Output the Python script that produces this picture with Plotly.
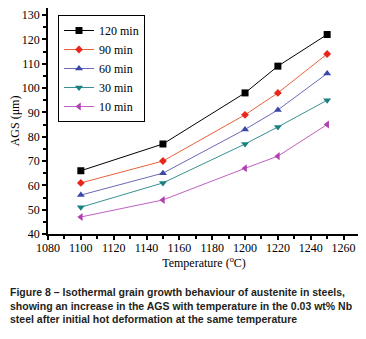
import plotly.graph_objects as go

temps = [1100, 1150, 1200, 1220, 1250]
ags_120 = [66, 77, 98, 109, 122]
ags_90 = [61, 70, 89, 98, 114]
ags_60 = [56, 65, 83, 91, 106]
ags_30 = [51, 61, 77, 84, 95]
ags_10 = [47, 54, 67, 72, 85]

series = [
    ("120 min", ags_120, "#000000", "#000000", "square"),
    ("90 min", ags_90, "#e8603c", "#e8261c", "diamond"),
    ("60 min", ags_60, "#6a6ab8", "#3a48a8", "triangle-up"),
    ("30 min", ags_30, "#3a9090", "#1a8080", "triangle-down"),
    ("10 min", ags_10, "#c060c0", "#b040b0", "triangle-left"),
]

serif = "Liberation Serif, Times New Roman, serif"

fig = go.Figure()
for name, vals, lc, mc, sym in series:
    fig.add_trace(go.Scatter(
        x=temps, y=vals, name=name, mode="lines+markers",
        line=dict(color=lc, width=1),
        marker=dict(symbol=sym, size=7 if sym != "diamond" else 6, color=mc),
    ))

fig.update_layout(
    width=358, height=331,
    margin=dict(l=40, r=6, t=0, b=105),
    plot_bgcolor="white", paper_bgcolor="white",
    font=dict(family=serif, size=12, color="black"),
    showlegend=True,
    legend=dict(
        x=0.032, y=0.969, xanchor="left", yanchor="top",
        bordercolor="black", borderwidth=1, bgcolor="white",
        font=dict(family=serif, size=12), tracegroupgap=0,
        itemwidth=30,
    ),
    xaxis=dict(
        range=[1080, 1270], tickvals=list(range(1080, 1261, 20)),
        showline=True, linecolor="black", linewidth=1.5,
        ticks="outside", ticklen=4, tickwidth=1.5, tickcolor="black",
        minor=dict(dtick=10, ticks="outside", ticklen=3, tickcolor="black"),
        showgrid=False, zeroline=False,
        tickfont=dict(family=serif, size=12),
        ticklabelstandoff=-2,
        title=dict(text="Temperature (<sup>o</sup>C)", font=dict(family=serif, size=12), standoff=0),
    ),
    yaxis=dict(
        range=[40, 132.9], tickvals=list(range(40, 131, 10)),
        showline=True, linecolor="black", linewidth=1.5,
        ticks="outside", ticklen=4, tickwidth=1.5, tickcolor="black",
        minor=dict(dtick=5, ticks="outside", ticklen=3, tickcolor="black"),
        showgrid=False, zeroline=False,
        tickfont=dict(family=serif, size=12),
        title=dict(text="AGS (μm)", font=dict(family=serif, size=12), standoff=4),
    ),
)

caption = ("<b>Figure 8 \u2013 Isothermal grain growth behaviour of austenite in steels,<br>"
           "showing an increase in the AGS with temperature in the 0.03 wt% Nb<br>"
           "steel after initial hot deformation at the same temperature</b>")
fig.add_annotation(
    text=caption, xref="paper", yref="paper", x=-0.128, y=-0.221,
    xanchor="left", yanchor="top", align="left", showarrow=False,
    font=dict(family="Liberation Sans, Arial, sans-serif", size=10.5, color="#231f20"),
)

fig.write_html("out.html")
